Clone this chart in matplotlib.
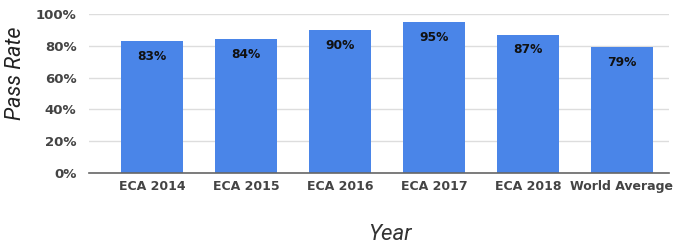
import matplotlib
matplotlib.use("Agg")
import matplotlib.pyplot as plt
from matplotlib.ticker import FuncFormatter

categories = ["ECA 2014", "ECA 2015", "ECA 2016", "ECA 2017", "ECA 2018", "World Average"]
pass_rate = [83, 84, 90, 95, 87, 79]
yticks = [0, 20, 40, 60, 80, 100]

plt.rcParams['font.family'] = ['DejaVu Sans']

fig = plt.figure(figsize=(6.73, 2.46), dpi=100)
ax = fig.add_axes([89/673, 1 - 173/246, (669-89)/673, (173-14)/246])

x = list(range(len(categories)))
ax.bar(x, pass_rate, width=0.65, color="#4a85e8", zorder=3)
for xi, v in zip(x, pass_rate):
    ax.text(xi, v - 5.5, f"{v}%", ha="center", va="top", fontsize=8.8,
            fontweight="bold", color="#111111", zorder=4)

ax.set_xlim(-0.67, 5.5)
ax.set_ylim(0, 100)
ax.set_yticks(yticks)
ax.yaxis.set_major_formatter(FuncFormatter(lambda v, p: f"{int(v)}%"))
ax.set_xticks(x)
ax.set_xticklabels(categories)
ax.grid(axis="y", color="#dddddd", linewidth=1, zorder=0)
for s in ["top", "right", "left"]:
    ax.spines[s].set_visible(False)
ax.spines["bottom"].set_color("#666666")
ax.spines["bottom"].set_linewidth(1.2)
ax.spines["bottom"].set_zorder(5)
ax.tick_params(axis="both", length=0)
ax.tick_params(axis="y", pad=9, labelsize=9.5, labelcolor="#444444")
ax.tick_params(axis="x", pad=5, labelsize=9, labelcolor="#444444")
for lab in ax.get_yticklabels() + ax.get_xticklabels():
    lab.set_fontweight("bold")

fig.text(16/673, 1 - 73/246, "Pass Rate", rotation=90, ha="center", va="center",
         fontsize=15.5, fontstyle="italic", color="#222222",
         family=["Roboto", "DejaVu Sans"])
fig.text(390/673, 1 - 235/246, "Year", ha="center", va="center",
         fontsize=16, fontstyle="italic", color="#333333",
         family=["Roboto", "DejaVu Sans"])

fig.savefig("out.png", dpi=100)
